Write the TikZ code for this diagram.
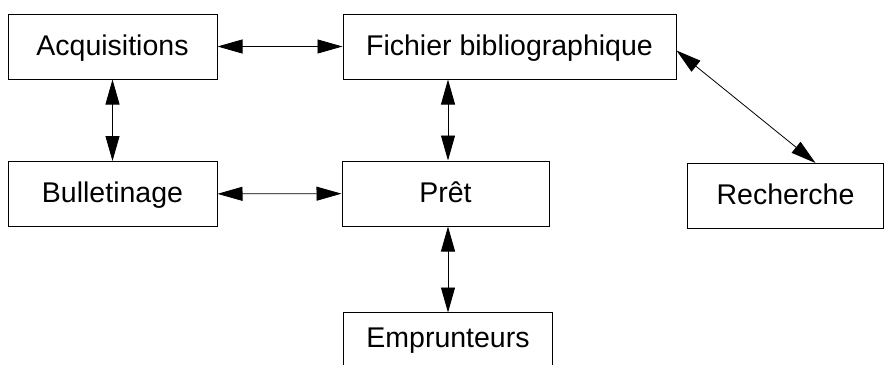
\documentclass[tikz,border=0pt]{standalone}
\usepackage{fontspec}
\setmainfont{Liberation Sans}
\usetikzlibrary{arrows.meta}
\begin{document}
\begin{tikzpicture}[x=1pt,y=-1pt,font=\fontsize{28.5}{34}\selectfont,
	box/.style={draw,line width=1pt,minimum height=65pt,text height=22pt,text depth=5pt,inner sep=0pt},
	link/.style={{Triangle[length=25pt,width=14pt]}-{Triangle[length=25pt,width=14pt]},line width=0.8pt}]
	\useasboundingbox (0,0) rectangle (885,373);
	\node[box,minimum width=209pt] (acq) at (112.5,46.5) {Acquisitions};
	\node[box,minimum width=333pt] (fich) at (509.5,46.5) {Fichier bibliographique};
	\node[box,minimum width=209pt] (bull) at (112.5,194) {Bulletinage};
	\node[box,minimum width=207pt] (pret) at (445.5,193.5) {Prêt};
	\node[box,minimum width=196pt] (rech) at (785.5,196) {Recherche};
	\node[box,draw=none,minimum width=208pt,minimum height=51pt] (emp) at (448,338.5) {Emprunteurs};
	\draw[line width=1pt] (emp.south west)--(emp.north west)--(emp.north east)--(emp.south east);
	\draw[link] (acq)--(fich);
	\draw[link] (acq)--(bull);
	\draw[link] (bull)--(pret);
	\draw[link] (fich.south -| emp.north)--(pret.north -| emp.north);
	\draw[link] ([yshift=-4pt]fich.east)--([xshift=30pt]rech.north);
	\draw[link] (pret.south -| emp.north)--(emp.north);
\end{tikzpicture}
\end{document}
